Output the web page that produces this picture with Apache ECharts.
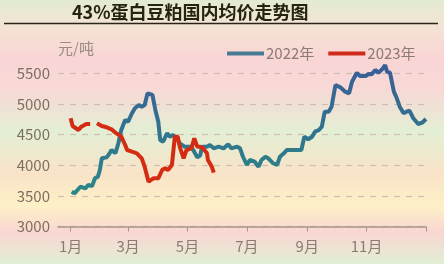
<!DOCTYPE html>
<html><head><meta charset="utf-8">
<script src="https://cdn.jsdelivr.net/npm/echarts@6/dist/echarts.min.js"></script>
<style>html,body{margin:0;padding:0;}#c{width:444px;height:264px;background:linear-gradient(to bottom,#e2ebd2 0%,#f4e3d4 10%,#f9d5d5 22%,#f7d9d6 34%,#e3efd4 50%,#f9e3c8 66%,#fdf0c6 78%,#f9d6d2 88%,#e1efd5 100%);}</style>
</head><body><div id="c"></div>
<script>
// x = day of year (Jan 1 = 0)
const tickDays = [0, 59, 120, 181, 243, 304, 365];
const tickLabels = ['1月', '3月', '5月', '7月', '9月', '11月', ''];
const yTicks = [3000, 3500, 4000, 4500, 5000, 5500];

const days2022 = [1,4,10,15,18,22,25,28,30,32,37,40,42,46,49,52,56,59,63,66,70,73,76,79,81,84,87,90,92,95,99,102,105,109,112,117,123,126,130,133,135,140,143,147,152,157,162,165,171,174,177,181,184,189,193,196,200,203,208,212,215,219,222,227,232,237,240,244,248,251,255,258,260,261,265,268,272,277,282,286,289,294,297,303,306,309,313,316,320,323,325,328,332,335,338,342,345,348,352,357,361,365];
const vals2022 = [3569,3542,3650,3624,3678,3662,3787,3814,3923,4114,4130,4196,4250,4196,4360,4577,4740,4713,4850,4931,4985,4958,4985,5176,5203,5149,4904,4713,4413,4386,4523,4467,4495,4441,4360,4304,4304,4250,4130,4160,4304,4304,4332,4277,4304,4277,4343,4277,4304,4277,4140,4005,4087,4059,3977,4087,4140,4114,4033,4005,4140,4196,4250,4250,4250,4250,4467,4425,4467,4549,4577,4631,4794,4876,4876,4958,5312,5274,5203,5176,5366,5513,5459,5459,5492,5487,5557,5513,5568,5639,5530,5513,5203,5095,4958,4850,4876,4892,4768,4675,4696,4757];

const days2023 = [0,2,8,11,16,20,23,27,32,37,42,46,52,56,58,63,68,73,76,80,85,90,94,97,100,104,107,110,112,116,119,124,127,130,133,136,140,141,145,147];
const vals2023 = [4768,4642,4577,4631,4675,4675,null,4686,4642,4621,4588,4533,4467,4332,4250,4222,4196,4114,3977,3732,3787,3787,3923,3951,3923,4005,4467,4467,4304,4114,4250,4277,4441,4304,4304,4277,4196,4087,3977,3880];

const zip = (a, b) => a.map((d, i) => [d, b[i]]);
const chart = echarts.init(document.getElementById('c'), null, {renderer: 'canvas'});
const font = '"Noto Sans CJK SC", sans-serif';
chart.setOption({
  animation: false,
  textStyle: {fontFamily: font},
  grid: {left: 58, right: 18, top: 73.5, bottom: 37.5},
  graphic: [
    {type: 'text', left: 72, top: 3, style: {text: '43%蛋白豆粕国内均价走势图', font: 'bold 18px ' + font, fill: '#24240f'}},
    {type: 'line', shape: {x1: 4, y1: 23.5, x2: 438, y2: 23.5}, style: {stroke: '#2b2418', lineWidth: 1.5}},
    {type: 'text', left: 58, top: 41, style: {text: '元/吨', font: '15px ' + font, fill: '#9a8a80'}}
  ],
  legend: {
    left: 222, top: 41, itemWidth: 37, itemHeight: 4, itemGap: 14,
    icon: 'rect',
    textStyle: {color: '#8c7b70', fontSize: 15, fontFamily: font, padding: [0, 0, 0, -3]},
    data: ['2022年', '2023年']
  },
  xAxis: {
    type: 'value', min: -13, max: 365,
    axisLine: {lineStyle: {color: '#a8958a', width: 1.5}},
    axisTick: {show: true, length: 5, customValues: tickDays, lineStyle: {color: '#a8958a'}},
    axisLabel: {customValues: tickDays, margin: 12, color: '#8c7b70', fontSize: 15, fontFamily: font,
      formatter: v => tickLabels[tickDays.indexOf(v)] || ''},
    splitLine: {show: false}
  },
  yAxis: {
    type: 'value', min: yTicks[0], max: yTicks[yTicks.length - 1], interval: 500,
    axisLine: {show: false}, axisTick: {show: false},
    axisLabel: {margin: 8, color: '#7d6e5e', fontSize: 15, fontFamily: font, formatter: v => String(v)},
    splitLine: {lineStyle: {color: '#cdbdb5', type: [6, 6], width: 1.2}}
  },
  series: [
    {name: '2022年', type: 'line', data: zip(days2022, vals2022), showSymbol: false, clip: false,
      itemStyle: {color: '#4a7b95'},
      lineStyle: {width: 4, color: {type: 'linear', x: 0, y: 0, x2: 0, y2: 1,
        colorStops: [{offset: 0, color: '#3a5d98'}, {offset: 1, color: '#2a8886'}]}}},
    {name: '2023年', type: 'line', data: zip(days2023, vals2023), showSymbol: false, clip: false,
      connectNulls: false,
      itemStyle: {color: '#d02a1a'},
      lineStyle: {width: 4, color: '#d42c12'}}
  ]
});
</script></body></html>
